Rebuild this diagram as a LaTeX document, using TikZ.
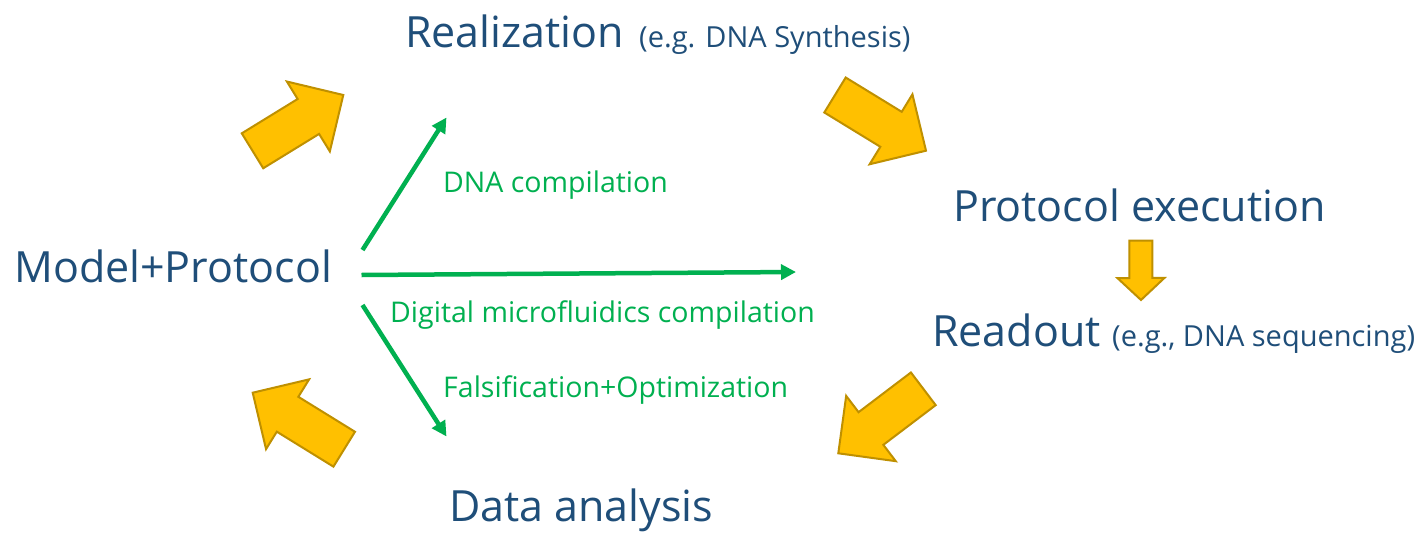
\documentclass[tikz,border=0pt]{standalone}
\usepackage{fontspec}
\setmainfont{Open Sans}
\usetikzlibrary{calc,arrows.meta}

\definecolor{titleblue}{HTML}{1F4E79}
\definecolor{flowgreen}{HTML}{00B050}
\definecolor{blockfill}{HTML}{FFC000}
\definecolor{blockedge}{HTML}{BF9000}

\tikzset{
  bigtext/.style={anchor=base west, inner sep=0pt, text=titleblue,
    font=\fontsize{43}{50}\selectfont},
  subtext/.style={anchor=base west, inner sep=0pt, text=titleblue,
    font=\fontsize{29}{34}\selectfont},
  greenlabel/.style={anchor=base west, inner sep=0pt, text=flowgreen,
    font=\fontsize{28.5}{34}\selectfont},
  flow/.style={draw=flowgreen, line width=4.5pt,
    -{Triangle[length=15pt,width=15pt]}},
  blockarrow/.style={fill=blockfill, draw=blockedge, line width=2pt,
    line join=miter}
}

% block arrow: #1 tail centre, #2 tip, #3 half shaft width,
% #4 half head width, #5 head length
\newcommand\blockarrow[5]{%
  \coordinate (ba-base) at ($(#2)!#5!(#1)$);
  \draw[blockarrow]
    ($(#1)!#3!90:(#2)$) -- ($(ba-base)!#3!90:(#2)$) --
    ($(ba-base)!#4!90:(#2)$) -- (#2) --
    ($(ba-base)!#4!-90:(#2)$) -- ($(ba-base)!#3!-90:(#2)$) --
    ($(#1)!#3!-90:(#2)$) -- cycle;
}

\begin{document}
\begin{tikzpicture}[x=1pt,y=-1pt]
  \useasboundingbox[fill=white] (0,0) rectangle (1428,533);

  % stage titles
  \node[bigtext] (real) at (405,47) {Realization};
  \node[subtext] (realsub) at (639,47) {(e.g. DNA Synthesis)};
  \node[bigtext] (exec) at (953,221) {Protocol execution};
  \node[bigtext] (read) at (932,346) {Readout};
  \node[subtext] (readsub) at (1112,346) {(e.g., DNA sequencing)};
  \node[bigtext] (model) at (14,282) {Model+Protocol};
  \node[bigtext] (data) at (449,521) {Data analysis};

  % compilation labels
  \node[greenlabel] (dnacomp) at (443,192) {DNA compilation};
  \node[greenlabel] (dmfcomp) at (390,322) {Digital microfluidics compilation};
  \node[greenlabel] (falsopt) at (443,397) {Falsification+Optimization};

  % green compilation arrows
  \coordinate (g1s) at (362.5,250);
  \coordinate (g1e) at (446.5,117.5);
  \coordinate (g2s) at (361.5,275);
  \coordinate (g2e) at (796,272);
  \coordinate (g3s) at (362.5,305);
  \coordinate (g3e) at (446.5,436.5);
  \draw[flow] (g1s) -- (g1e);
  \draw[flow] (g2s) -- (g2e);
  \draw[flow] (g3s) -- (g3e);

  % cycle arrows
  \coordinate (a1t) at (252.5,150.8); \coordinate (a1p) at (343.3,95);
  \coordinate (a2t) at (835,95);      \coordinate (a2p) at (926,150.7);
  \coordinate (a3t) at (1140.8,240.7);\coordinate (a3p) at (1141,300);
  \coordinate (a4t) at (923.3,388.8); \coordinate (a4p) at (838.3,453.3);
  \coordinate (a5t) at (344.2,449.2); \coordinate (a5p) at (252.7,392.7);
  \blockarrow{a1t}{a1p}{20.5pt}{41pt}{41pt}
  \blockarrow{a2t}{a2p}{20.5pt}{41pt}{41pt}
  \blockarrow{a3t}{a3p}{11.5pt}{23.5pt}{22pt}
  \blockarrow{a4t}{a4p}{20.5pt}{41pt}{41pt}
  \blockarrow{a5t}{a5p}{20.5pt}{41pt}{41pt}
\end{tikzpicture}
\end{document}
